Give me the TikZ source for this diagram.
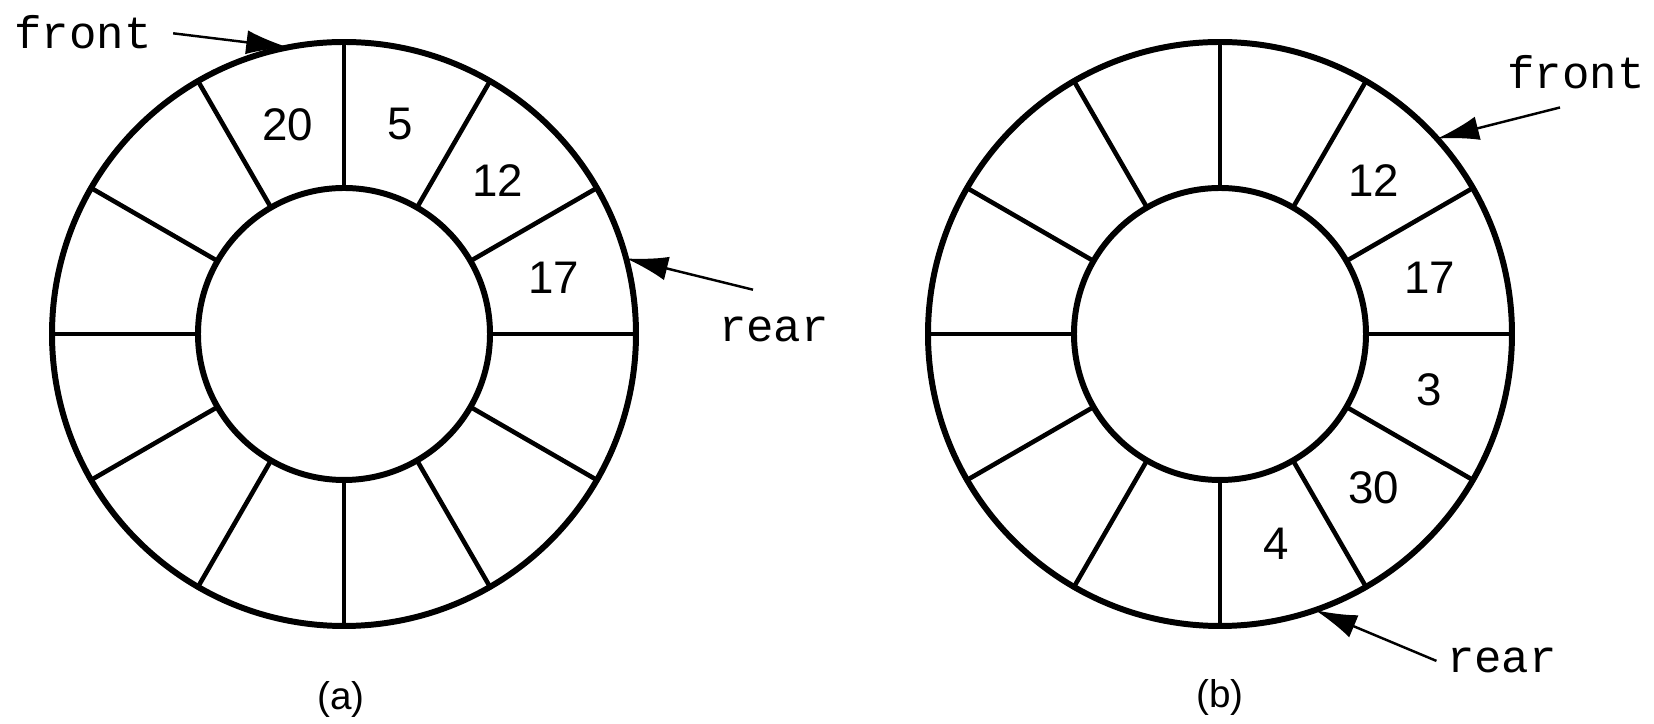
\documentclass[tikz,border=0pt]{standalone}
\usepackage{fontspec}
\setmainfont{Liberation Sans}
\setmonofont{Liberation Mono}
\usetikzlibrary{arrows.meta}

\begin{document}
\begin{tikzpicture}[x=0.1mm, y=0.1mm]
\tikzset{ring/.style = {circle, draw, line width=1.7pt, inner sep=0pt, outer sep=0pt}}
\tikzset{spoke/.style = {line width=1.3pt}}
\tikzset{pointer/.style = {-{Latex[length=4.2mm, width=2.4mm]}, line width=.7pt}}
\tikzset{value/.style = {font=\fontsize{13}{15}\selectfont}}
\tikzset{tag/.style = {font=\ttfamily\fontsize{13}{15}\selectfont, inner sep=1mm}}
\tikzset{caption/.style = {font=\fontsize{11}{13}\selectfont}}

\useasboundingbox (0,0) rectangle (1654,724);

\node[ring, minimum size=58.4mm] (outerA) at (344,390) {};
\node[ring, minimum size=29.2mm] (innerA) at (344,390) {};
\node[ring, minimum size=58.4mm] (outerB) at (1220,390) {};
\node[ring, minimum size=29.2mm] (innerB) at (1220,390) {};

\foreach \s in {A, B}
  {\foreach \a in {0, 30, ..., 330}
     {\draw[spoke] (inner\s.\a) -- (outer\s.\a);}}

% queue contents
\foreach \a/\v in {105/20, 75/5, 45/12, 15/17}
  {\node[value] (valA\v) at ([shift={(\a:217)}]outerA.center) {\v};}

\foreach \a/\v in {45/12, 15/17, -15/3, -45/30, -75/4}
  {\node[value] (valB\v) at ([shift={(\a:217)}]outerB.center) {\v};}

% pointers
\node[tag] (frontA) at (83,692) {front};
\node[tag, anchor=base] (rearA) at (774,382) {rear};
\node[tag] (frontB) at (1576,652) {front};
\node[tag, anchor=base] (rearB) at (1502,51) {rear};

\draw[pointer, shorten <=1.1mm] (frontA.east) -- (outerA.101);
\draw[pointer] ([shift={(-2.1mm,1.7mm)}]rearA.north) -- (outerA.15);
\draw[pointer] ([shift={(-1.6mm,-0.8mm)}]frontB.south) -- (outerB.42);
\draw[pointer] (rearB.west) -- (outerB.-71);

\node[caption] (capA) at (341,24) {(a)};
\node[caption] (capB) at (1220,26) {(b)};

\end{tikzpicture}
\end{document}
